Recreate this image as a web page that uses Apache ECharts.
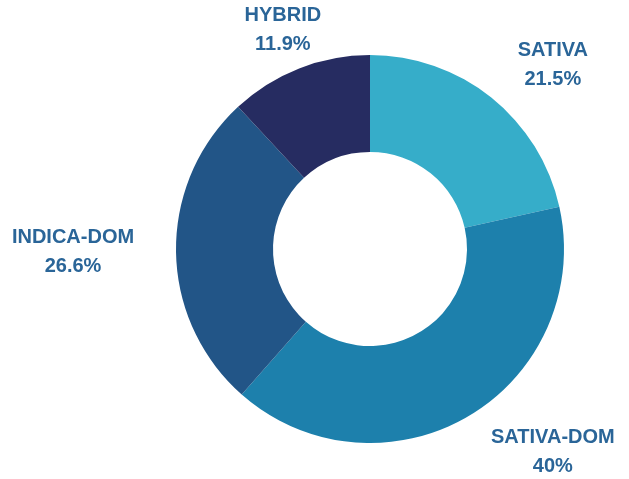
<!DOCTYPE html>
<html>
<head>
<meta charset="utf-8">
<script src="https://cdn.jsdelivr.net/npm/echarts@6/dist/echarts.min.js"></script>
<style>
html,body{margin:0;padding:0;background:#fff;}
#chart{width:629px;height:479px;}
</style>
</head>
<body>
<div id="chart"></div>
<script>
// Data
var categories = ['SATIVA', 'SATIVA-DOM', 'INDICA-DOM', 'HYBRID'];
var percentValues = [21.5, 40, 26.6, 11.9];
var sliceColors = ['#36ADC9', '#1D80AC', '#225587', '#262C61'];

// Layout (not data)
var CX = 370, CY = 249, R_IN = 97, R_OUT = 194;
// label placement: [radial distance from centre, angle shift in degrees]
var labelPolar = [[259.5, 6.1], [273.3, -11.4], [297, 0.1], [235.6, -0.3]];

var total = percentValues.reduce(function (a, b) { return a + b; }, 0);
var midAngles = [];
var acc = 0;
percentValues.forEach(function (v) {
  midAngles.push((acc + v / 2) / total * 360);
  acc += v;
});

var chart = echarts.init(document.getElementById('chart'), null, {renderer: 'canvas'});
chart.setOption({
  backgroundColor: '#ffffff',
  animation: false,
  series: [{
    type: 'pie',
    center: [CX, CY],
    radius: [R_IN, R_OUT],
    startAngle: 90,
    clockwise: true,
    avoidLabelOverlap: false,
    itemStyle: {borderWidth: 0},
    emphasis: {disabled: true},
    label: {
      show: true,
      position: 'outside',
      formatter: function (p) { return p.name + '\n' + p.value + '%'; },
      color: '#2A6598',
      fontFamily: 'Liberation Sans, Arial, sans-serif',
      fontWeight: 'bold',
      fontSize: 20,
      lineHeight: 29,
      align: 'center'
    },
    labelLine: {show: false},
    labelLayout: function (p) {
      var i = p.dataIndex;
      var a = (midAngles[i] + labelPolar[i][1]) * Math.PI / 180;
      var r = labelPolar[i][0];
      return {
        x: CX + r * Math.sin(a),
        y: CY - r * Math.cos(a),
        align: 'center',
        verticalAlign: 'middle'
      };
    },
    data: categories.map(function (c, i) {
      return {name: c, value: percentValues[i], itemStyle: {color: sliceColors[i]}};
    })
  }]
});
</script>
</body>
</html>
